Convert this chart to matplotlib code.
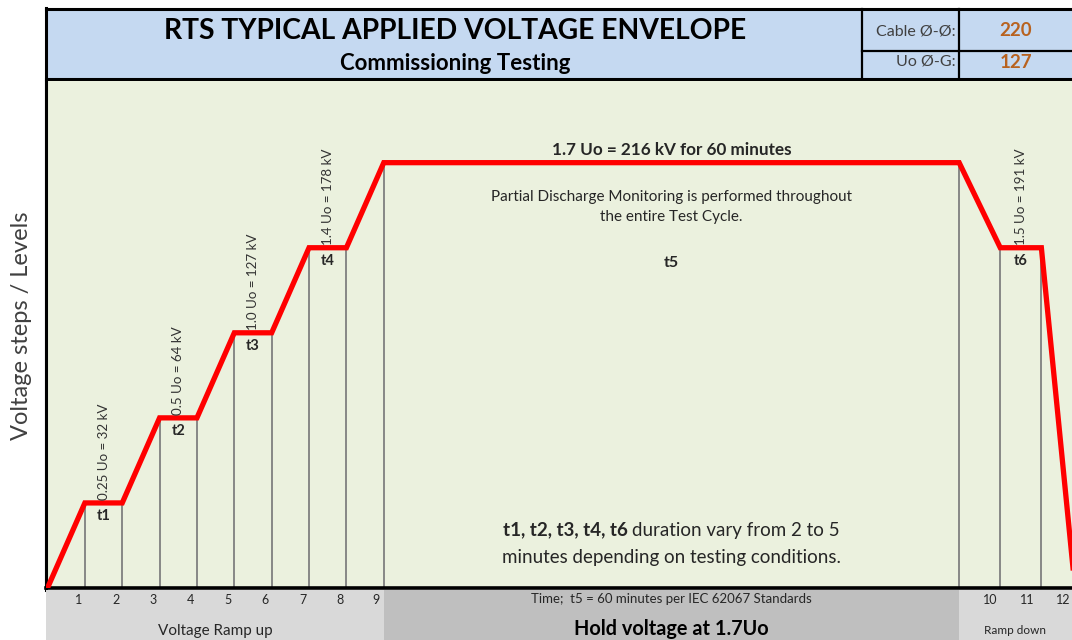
import numpy as np
import matplotlib
matplotlib.use("Agg")
import matplotlib.pyplot as plt
from matplotlib.patches import Rectangle

plt.rcParams["font.family"] = ["Lato", "DejaVu Sans"]

# envelope: time position (test step) and voltage level (step number)
step_x = [0, 1, 2, 3, 4, 5, 6, 7, 8, 9, 24.4, 25.5, 26.6, 27.5]
step_level = [0, 1, 1, 2, 2, 3, 3, 4, 4, 5, 5, 4, 4, 0]

# hold stages: index pairs into step_x / step_level
stage_names = ["t1", "t2", "t3", "t4", "t5", "t6"]
stage_idx = [(1, 2), (3, 4), (5, 6), (7, 8), (9, 10), (11, 12)]
stage_kv = ["0.25 Uo = 32 kV", "0.5 Uo = 64 kV", "1.0 Uo = 127 kV",
            "1.4 Uo = 178 kV", None, "1.5 Uo = 191 kV"]

tick_labels = ["1", "2", "3", "4", "5", "6", "7", "8", "9", "10", "11", "12"]
tick_x = [0.83, 1.83, 2.83, 3.83, 4.83, 5.83, 6.83, 7.83, 8.78, 25.23, 26.22, 27.18]

cable_pp = "220"
uo_pg = "127"

BG = "#ebf1de"
BLUE = "#c5d9f1"
TXT = "#262626"
XMIN, XMAX = -0.04, 27.42

fig = plt.figure(figsize=(10.72, 6.4), dpi=100)

# ---- header / frame in pixel coordinates
bg = fig.add_axes([0, 0, 1, 1])
bg.set_xlim(0, 1072)
bg.set_ylim(640, 0)
bg.axis("off")
bg.add_patch(Rectangle((46, 9), 1030, 70, facecolor=BLUE, edgecolor="none"))
bg.plot([46, 1072], [9, 9], color="black", lw=2.2)
bg.plot([46, 1072], [79, 79], color="black", lw=2.2)
bg.plot([46, 46], [8, 590], color="black", lw=2.2)
bg.plot([862, 862], [9, 79], color="black", lw=1.6)
bg.plot([959, 959], [9, 79], color="black", lw=1.6)
bg.plot([862, 1072], [51, 51], color="black", lw=1.6)
bg.text(455, 31, "RTS TYPICAL APPLIED VOLTAGE ENVELOPE", ha="center", va="center",
        fontsize=20.3, fontweight="bold", color="black")
bg.text(455, 63, "Commissioning Testing", ha="center", va="center",
        fontsize=16, fontweight="bold", color="black")
bg.text(956, 31, "Cable Ø-Ø:", ha="right", va="center", fontsize=11.5, color="#404040")
bg.text(956, 62, "Uo Ø-G:", ha="right", va="center", fontsize=11.5, color="#404040")
bg.text(1016, 30, cable_pp, ha="center", va="center", fontsize=13.5,
        fontweight="bold", color="#b8621f")
bg.text(1016, 63, uo_pg, ha="center", va="center", fontsize=13.5,
        fontweight="bold", color="#b8621f")
bg.text(22, 326, "Voltage steps / Levels", rotation=90, ha="center", va="center",
        fontsize=17, color="#404040")

# ---- main envelope
ax = fig.add_axes([46 / 1072, 52 / 640, 1 - 46 / 1072, 507 / 640])
ax.set_facecolor(BG)
ax.set_xlim(XMIN, XMAX)
ax.set_ylim(0, 5.96)
for s in ["top", "right"]:
    ax.spines[s].set_visible(False)
ax.spines["left"].set_linewidth(2.2)
ax.spines["bottom"].set_linewidth(2.6)
ax.set_xticks([])
ax.set_yticks([])

ax.vlines(step_x[1:-1], 0, step_level[1:-1], color="#7f7f7f", lw=1.3, zorder=2)
ax.plot(step_x, step_level, color="#ff0000", lw=3.8, solid_joinstyle="miter", zorder=3)

for name, (i0, i1), kv in zip(stage_names, stage_idx, stage_kv):
    xc = (step_x[i0] + step_x[i1]) / 2
    lvl = step_level[i0]
    if kv is None:
        continue
    ax.text(xc, lvl + 0.03, kv, rotation=90, ha="center", va="bottom",
            fontsize=9.6, color="#333333", zorder=4)
    ax.text(xc, lvl - 0.07, name, ha="center", va="top", fontsize=10.5,
            fontweight="bold", color=TXT, zorder=4)

i0, i1 = stage_idx[4]
xh = (step_x[i0] + step_x[i1]) / 2
lh = step_level[i0]
ax.text(xh, lh + 0.06, "1.7 Uo = 216 kV for 60 minutes", ha="center", va="bottom",
        fontsize=12.3, fontweight="bold", color=TXT)
ax.text(xh, lh - 0.52, "Partial Discharge Monitoring is performed throughout\nthe entire Test Cycle.",
        ha="center", va="center", fontsize=11, color=TXT, linespacing=1.5)
ax.text(xh, lh - 1.18, stage_names[4], ha="center", va="center", fontsize=11.5,
        fontweight="bold", color=TXT)

# first note line: bold stage list followed by regular text, centred as one line
note_bold = "t1, t2, t3, t4, t6 "
note_rest = "duration vary from 2 to 5"
tb = ax.text(xh, 0.68, note_bold, ha="left", va="center", fontsize=13.5,
             fontweight="bold", color=TXT)
tr = ax.text(xh, 0.68, note_rest, ha="left", va="center", fontsize=13.5, color=TXT)
fig.canvas.draw()
r = fig.canvas.get_renderer()
wb = tb.get_window_extent(r).width
wr = tr.get_window_extent(r).width
inv = ax.transData.inverted()
x0_px = ax.transData.transform((xh, 0))[0] - (wb + wr) / 2
tb.set_x(inv.transform((x0_px, 0))[0])
tr.set_x(inv.transform((x0_px + wb, 0))[0])
ax.text(xh, 0.355, "minutes depending on testing conditions.",
        ha="center", va="center", fontsize=13.5, color=TXT)

# ---- bottom band with step numbers and phase names
band = fig.add_axes([46 / 1072, 0, 1 - 46 / 1072, 50 / 640])
band.set_xlim(XMIN, XMAX)
band.set_ylim(0, 1)
band.axis("off")
band.axvspan(XMIN, step_x[9], color="#d9d9d9", lw=0)
band.axvspan(step_x[9], step_x[10], color="#bfbfbf", lw=0)
band.axvspan(step_x[10], XMAX, color="#d9d9d9", lw=0)
for lab, xt in zip(tick_labels, tick_x):
    band.text(xt, 0.8, lab, ha="center", va="center", fontsize=9, color=TXT, clip_on=False)
band.text(xh, 0.82, "Time;  t5 = 60 minutes per IEC 62067 Standards", ha="center",
          va="center", fontsize=9.5, color=TXT)
band.text(step_x[9] / 2, 0.17, "Voltage Ramp up", ha="center", va="center",
          fontsize=11, color=TXT)
band.text(xh, 0.22, "Hold voltage at 1.7Uo", ha="center", va="center",
          fontsize=14.3, fontweight="bold", color="black")
band.text(25.9, 0.2, "Ramp down", ha="center", va="center", fontsize=8.5, color=TXT)

fig.savefig("out.png", dpi=100, facecolor="white")
plt.close(fig)
